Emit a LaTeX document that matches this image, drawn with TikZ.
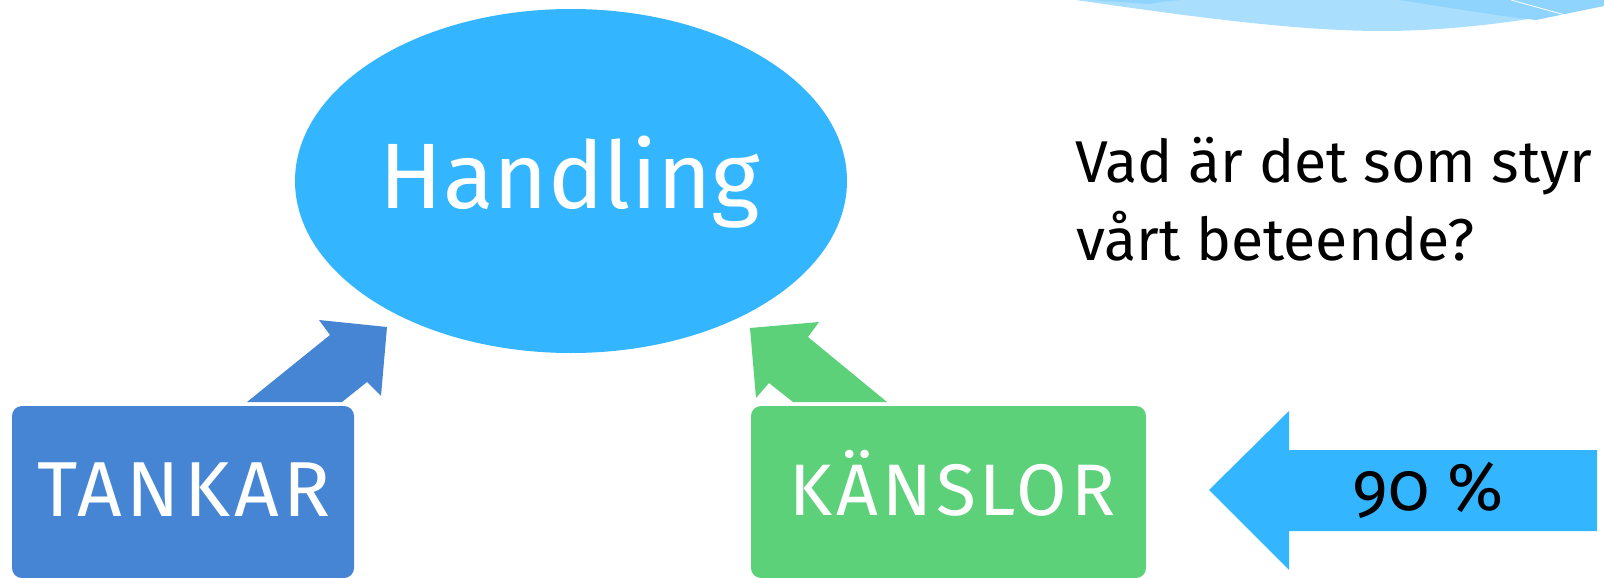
\documentclass[tikz,border=0pt]{standalone}
\usepackage{fontspec}
\usetikzlibrary{shapes.geometric}
\setmainfont{Fira Sans}
\newfontfamily\numfont[Numbers=OldStyle]{Fira Sans}
\newfontfamily\capsA[LetterSpace=5.4]{Fira Sans}
\newfontfamily\capsB[LetterSpace=5.5]{Fira Sans}
\definecolor{skyblue}{RGB}{51,182,255}
\definecolor{tankblue}{RGB}{70,133,211}
\definecolor{kgreen}{RGB}{93,208,122}
\definecolor{decolight}{RGB}{169,222,253}
\definecolor{decodark}{RGB}{143,212,252}
\begin{document}
\begin{tikzpicture}[x=1pt,y=-1pt,
  box/.style={rectangle, rounded corners=10pt, inner sep=0pt},
  lbl/.style={text=white, anchor=base, inner sep=0pt}]
\useasboundingbox (0,0) rectangle (1604,578);
% top right decoration
\fill[decolight] (1076,0) .. controls (1200,18) and (1300,31) .. (1382,31)
  .. controls (1470,31) and (1560,15) .. (1604,5) -- (1604,0) -- cycle;
\fill[decodark] (1400,0) .. controls (1450,8) and (1500,16) .. (1536,20)
  -- (1604,6) -- (1604,0) -- cycle;
\fill[decodark] (1090,0) -- (1150,4) .. controls (1160,2) .. (1180,0) -- cycle;
\draw[white, line width=0.8pt] (1511,0) -- (1565,15);
% ellipse
\node[ellipse, fill=skyblue, minimum width=552pt, minimum height=344pt, inner sep=0pt] (handling) at (571,181) {};
\node[lbl, font=\fontsize{93}{100}\selectfont] (handlingtxt) at (570,208) {Handling};
% boxes
\node[box, fill=tankblue, minimum width=342pt, minimum height=172pt] (tankar) at (183,492) {};
\node[lbl, font=\capsA\fontsize{78}{80}\selectfont] (tankartxt) at (184,516) {TANKAR};
\node[box, fill=kgreen, minimum width=395pt, minimum height=172pt] (kanslor) at (948.5,492) {};
\node[lbl, font=\capsB\fontsize{73}{80}\selectfont] (kanslortxt) at (952.5,515) {KÄNSLOR};
% block arrows
\fill[tankblue] (247,402) -- (330,335) -- (319,320) -- (387,327) -- (381,396) -- (367,382) -- (342,402) -- cycle;
\fill[kgreen] (793,402) -- (769,383) -- (756,398) -- (750,328) -- (819,322) -- (808,337) -- (887,402) -- cycle;
\fill[skyblue] (1209,490) -- (1289,411) -- (1289,450) -- (1597,450) -- (1597,531) -- (1289,531) -- (1289,570) -- cycle;
\node[anchor=base, inner sep=0pt, font=\numfont\fontsize{68}{70}\selectfont] (pct) at (1428,510) {90 \%};
% question
\node[anchor=base west, inner sep=0pt, font=\fontsize{59}{80}\selectfont] (q1) at (1075,182) {Vad är det som styr};
\node[anchor=base west, inner sep=0pt, font=\fontsize{59}{80}\selectfont] (q2) at (1076,260) {vårt beteende?};
\end{tikzpicture}
\end{document}
